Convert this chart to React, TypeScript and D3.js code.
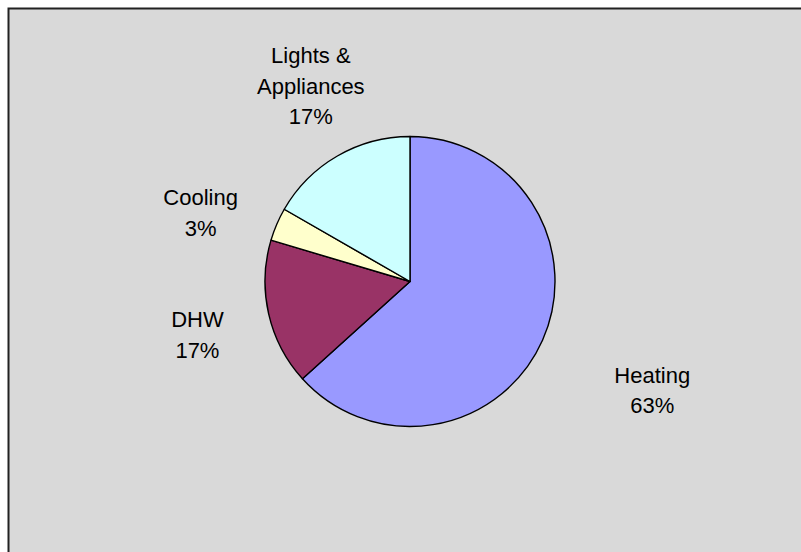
import * as d3 from 'd3'

// energy use shares (clockwise from 12 o'clock)
const categories = ['Heating', 'DHW', 'Cooling', 'Lights & Appliances']
const shares = [63.3, 16.3, 3.7, 16.7]
const percentLabels = ['63%', '17%', '3%', '17%']
const colors = ['#9999FF', '#993366', '#FFFFCC', '#CCFFFF']

// label text lines (category split as drawn)
const labelLines = [['Heating'], ['DHW'], ['Cooling'], ['Lights &', 'Appliances']]

export default function App() {
  const width = 801
  const height = 552
  const cx = 410
  const cy = 281.5
  const radius = 145
  const labelRadius = 218
  const lineH = 30.5
  const fontSize = 22
  // small layout nudges so the labels sit where the original put them
  const labelNudge = [[43, 20], [0, 5], [-9, 17], [10, -7]]

  const data = categories.map((name, i) => ({name, value: shares[i], i}))
  const pie = d3.pie<any>().value(d => d.value).sort(null)
  const arcs = pie(data)
  const arc = d3.arc<any>().innerRadius(0).outerRadius(radius)
  const labelArc = d3.arc<any>().innerRadius(labelRadius).outerRadius(labelRadius)

  return (
    <svg width={width} height={height} style={{position: 'absolute', left: 0, top: 0, display: 'block'}}>
      <rect x={0} y={0} width={width} height={height} fill="#ffffff"/>
      <rect x={8.5} y={8.5} width={width} height={height} fill="#D9D9D9" stroke="#222" strokeWidth={2}/>
      <g transform={`translate(${cx},${cy})`}>
        {arcs.map((a, i) => (
          <path key={i} d={arc(a) || ''} fill={colors[i]} stroke="#000" strokeWidth={1.4} strokeLinejoin="round"/>
        ))}
        {arcs.map((a, i) => {
          const [lx, ly] = labelArc.centroid(a)
          const lines = [...labelLines[i], percentLabels[i]]
          const x = lx + labelNudge[i][0]
          const y0 = ly + labelNudge[i][1]
          return (
            <text key={i} textAnchor="middle" fontFamily="'Liberation Sans', Arial, sans-serif"
                  fontSize={fontSize} fill="#000">
              {lines.map((t, j) => (
                <tspan key={j} x={x} y={y0 + (j - (lines.length - 1) / 2) * lineH + 8}>{t}</tspan>
              ))}
            </text>
          )
        })}
      </g>
    </svg>
  )
}
